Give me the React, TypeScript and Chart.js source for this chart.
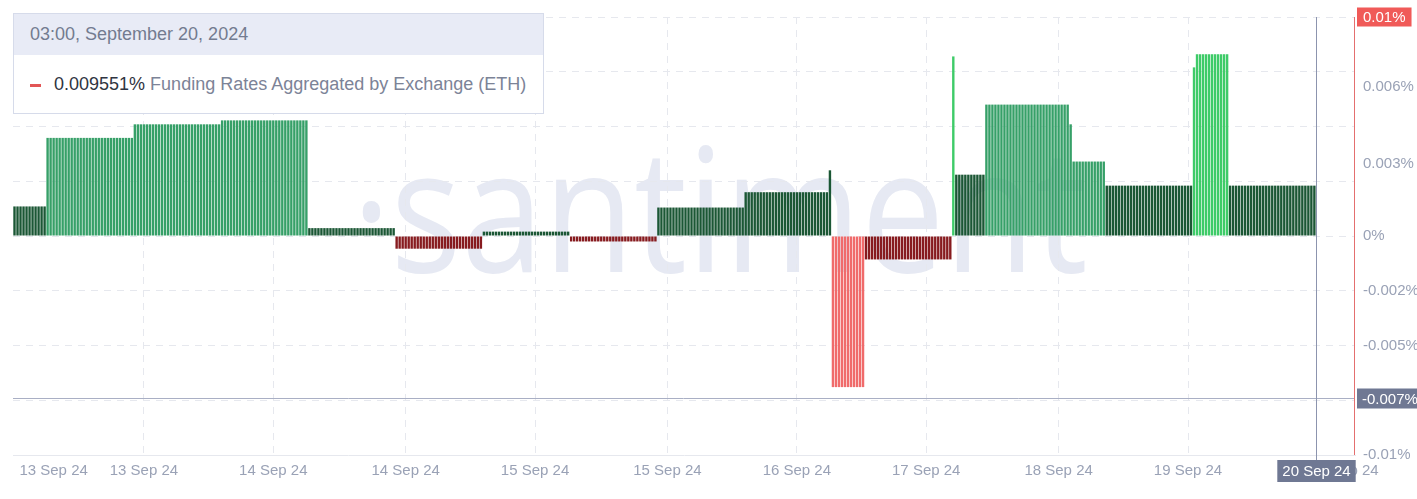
import React, { useEffect, useRef } from "react";
import { Chart, registerables } from "chart.js";

Chart.register(...registerables);

// Funding rate readings (%), run-length encoded: rate of each run and number of consecutive readings
const runRates = [
  0.00135, 0.00448, 0.0051, 0.00528, 0.00036, -0.00058, 0.0002, -0.00025, 0.0013,
  0.002, 0.003, -0.0069, -0.00107, 0.0082, 0.0028, 0.006, 0.0051, 0.0034, 0.0023,
  0.0077, 0.0083, 0.0023,
];
const runLengths = [11, 29, 29, 29, 29, 29, 29, 29, 29, 28, 1, 11, 29, 1, 10, 28, 1, 11, 29, 1, 11, 29];
const emptyTrailingSlots = 13;

// x-axis tick labels and the reading index each one sits on
const xTickLabels = [
  "13 Sep 24", "13 Sep 24", "14 Sep 24", "14 Sep 24", "15 Sep 24", "15 Sep 24",
  "16 Sep 24", "17 Sep 24", "18 Sep 24", "19 Sep 24", "20 Sep 24",
];
const xTickIndex = [13, 43, 86, 130, 173, 217, 260, 303, 347, 390, 442];

// y-axis grid values and labelled values
const yGridValues = [0.01, 0.0075, 0.005, 0.0025, 0, -0.0025, -0.005, -0.0075, -0.01];
const yLabelValues = [0.0068, 0.0033, 0, -0.0025, -0.005, -0.01];
const yLabels = ["0.006%", "0.003%", "0%", "-0.002%", "-0.005%", "-0.01%"];

// crosshair / tooltip
const crossValue = -0.0074;
const crossYLabel = "-0.007%";
const crossXLabel = "20 Sep 24";
const topMarkerValue = 0.01;
const topMarkerLabel = "0.01%";
const tooltipDate = "03:00, September 20, 2024";
const tooltipValue = "0.009551%";
const seriesName = "Funding Rates Aggregated by Exchange (ETH)";

const FONT = "'Liberation Sans', Arial, sans-serif";

function colorFor(v: number | null) {
  if (v === null) return "rgba(0,0,0,0)";
  if (v >= 0.0075) return "#3ecb68";
  if (v >= 0.0032) return "#36a068";
  if (v > 0) return "#1b5735";
  if (v <= -0.005) return "#f06b6b";
  return "#871b1f";
}

export default function App() {
  const ref = useRef<HTMLCanvasElement>(null);

  useEffect(() => {
    const values: (number | null)[] = [];
    runRates.forEach((r, i) => {
      for (let k = 0; k < runLengths[i]; k++) values.push(r);
    });
    const barCount = values.length;
    for (let k = 0; k < emptyTrailingSlots; k++) values.push(null);
    const labels = values.map((_, i) => String(i));

    const overlay = {
      id: "overlay",
      afterDraw(chart: any) {
        const { ctx, chartArea } = chart;
        const ys = chart.scales.y;
        const xs = chart.scales.x;
        const pitch = xs.getPixelForValue(1) - xs.getPixelForValue(0);
        const meta = chart.getDatasetMeta(0);
        const last = meta.data[barCount - 1];
        const cx = Math.round(last.x + pitch / 2) + 0.5;
        const cy = Math.round(ys.getPixelForValue(crossValue)) + 0.5;
        ctx.save();
        ctx.lineWidth = 1;
        // right axis line
        ctx.strokeStyle = "#e46f6f";
        ctx.beginPath();
        ctx.moveTo(Math.round(chartArea.right) - 0.5, chartArea.top);
        ctx.lineTo(Math.round(chartArea.right) - 0.5, chartArea.bottom);
        ctx.stroke();
        // crosshair
        ctx.strokeStyle = "#a9afc4";
        ctx.beginPath();
        ctx.moveTo(chartArea.left, cy);
        ctx.lineTo(chartArea.right - 1, cy);
        ctx.stroke();
        ctx.strokeStyle = "#8c94ae";
        ctx.beginPath();
        ctx.moveTo(cx, chartArea.top);
        ctx.lineTo(cx, chartArea.bottom + 6);
        ctx.stroke();

        ctx.font = `15px ${FONT}`;
        ctx.textBaseline = "middle";
        ctx.textAlign = "left";
        // y crosshair label
        const yl = chartArea.right + 2;
        const yw = ctx.measureText(crossYLabel).width + 12;
        ctx.fillStyle = "#6f7893";
        ctx.fillRect(yl, cy - 10, yw, 20);
        ctx.fillStyle = "#ffffff";
        ctx.fillText(crossYLabel, yl + 5, cy + 1);
        // top marker
        const ty = ys.getPixelForValue(topMarkerValue);
        const tw = ctx.measureText(topMarkerLabel).width + 12;
        ctx.fillStyle = "#f05a58";
        ctx.fillRect(yl, ty - 9.5, tw, 19);
        ctx.fillStyle = "#ffffff";
        ctx.fillText(topMarkerLabel, yl + 6, ty + 1);
        // x crosshair label
        const xw = ctx.measureText(crossXLabel).width + 10;
        ctx.fillStyle = "#6f7893";
        ctx.fillRect(cx - xw / 2, chartArea.bottom + 5, xw, 22);
        ctx.fillStyle = "#ffffff";
        ctx.textAlign = "center";
        ctx.fillText(crossXLabel, cx, chartArea.bottom + 16.5);
        ctx.restore();
      },
    };

    const chart = new Chart(ref.current!, {
      type: "bar",
      data: {
        labels,
        datasets: [
          {
            data: values,
            backgroundColor: values.map(colorFor),
            borderWidth: 0,
            barPercentage: 0.8,
            categoryPercentage: 1,
          },
        ],
      },
      options: {
        animation: false,
        responsive: false,
        maintainAspectRatio: false,
        layout: { padding: { left: 13, top: 13, right: 0, bottom: 0 } },
        plugins: { legend: { display: false }, tooltip: { enabled: false } },
        scales: {
          x: {
            type: "category",
            offset: true,
            afterFit: (s: any) => {
              s.height = 44;
            },
            afterBuildTicks: (s: any) => {
              s.ticks = xTickIndex.map((v) => ({ value: v }));
            },
            grid: {
              offset: false,
              drawTicks: false,
              color: (c: any) =>
                c.index === 0 || c.index === xTickIndex.length - 1 ? "rgba(0,0,0,0)" : "#e6e8ee",
            },
            border: { display: true, color: "#e6e8ee", dash: [7, 6] },
            ticks: {
              autoSkip: false,
              maxRotation: 0,
              padding: 7,
              color: "#9aa2b6",
              font: { family: FONT, size: 15 },
              callback: (_v: any, i: number) => xTickLabels[i],
            },
          },
          y: {
            type: "linear",
            position: "right",
            min: -0.01,
            max: 0.01,
            afterFit: (s: any) => {
              s.width = 62;
            },
            afterBuildTicks: (s: any) => {
              const all = [...yGridValues, ...yLabelValues]
                .filter((v, i, a) => a.findIndex((w) => Math.abs(w - v) < 1e-9) === i)
                .sort((a, b) => a - b);
              s.ticks = all.map((v) => ({ value: v }));
            },
            grid: {
              drawTicks: false,
              color: (c: any) =>
                c.tick && yGridValues.some((g) => Math.abs(g - c.tick.value) < 1e-9)
                  ? "#e6e8ee"
                  : "rgba(0,0,0,0)",
            },
            border: { display: false, dash: [7, 6] },
            ticks: {
              padding: 8,
              color: "#9aa2b6",
              font: { family: FONT, size: 15 },
              callback: (v: any) => {
                const k = yLabelValues.findIndex((y) => Math.abs(y - Number(v)) < 1e-9);
                return k >= 0 ? yLabels[k] : "";
              },
            },
          },
        },
      },
      plugins: [overlay],
    } as any);
    return () => chart.destroy();
  }, []);

  return (
    <div
      style={{
        position: "absolute",
        left: 0,
        top: 0,
        width: 1417,
        height: 499,
        background: "#ffffff",
        overflow: "hidden",
        fontFamily: FONT,
      }}
    >
      <div
        style={{
          position: "absolute",
          left: 352,
          top: 119,
          fontFamily: "'Open Sans', sans-serif",
          fontSize: 172,
          lineHeight: 1,
          color: "#e6e9f3",
          whiteSpace: "nowrap",
          transform: "scaleX(0.86)",
          transformOrigin: "left top",
          userSelect: "none",
        }}
      >
        ·santiment
      </div>
      <canvas
        ref={ref}
        width={1417}
        height={499}
        style={{ position: "absolute", left: 0, top: 0, width: 1417, height: 499 }}
      />
      <div
        style={{
          position: "absolute",
          left: 13,
          top: 13,
          width: 531,
          height: 101,
          boxSizing: "border-box",
          border: "1px solid #d6dbea",
          background: "#ffffff",
          fontSize: 18,
        }}
      >
        <div
          style={{
            height: 41,
            lineHeight: "41px",
            background: "#e8ebf6",
            paddingLeft: 16,
            color: "#737b90",
            whiteSpace: "nowrap",
          }}
        >
          {tooltipDate}
        </div>
        <div style={{ height: 58, lineHeight: "58px", paddingLeft: 16, whiteSpace: "nowrap" }}>
          <span
            style={{
              display: "inline-block",
              width: 11,
              height: 3,
              background: "#e25656",
              verticalAlign: "middle",
              marginRight: 13,
            }}
          />
          <span style={{ color: "#2f3441" }}>{tooltipValue}</span>
          <span style={{ color: "#7c8397" }}> {seriesName}</span>
        </div>
      </div>
    </div>
  );
}
